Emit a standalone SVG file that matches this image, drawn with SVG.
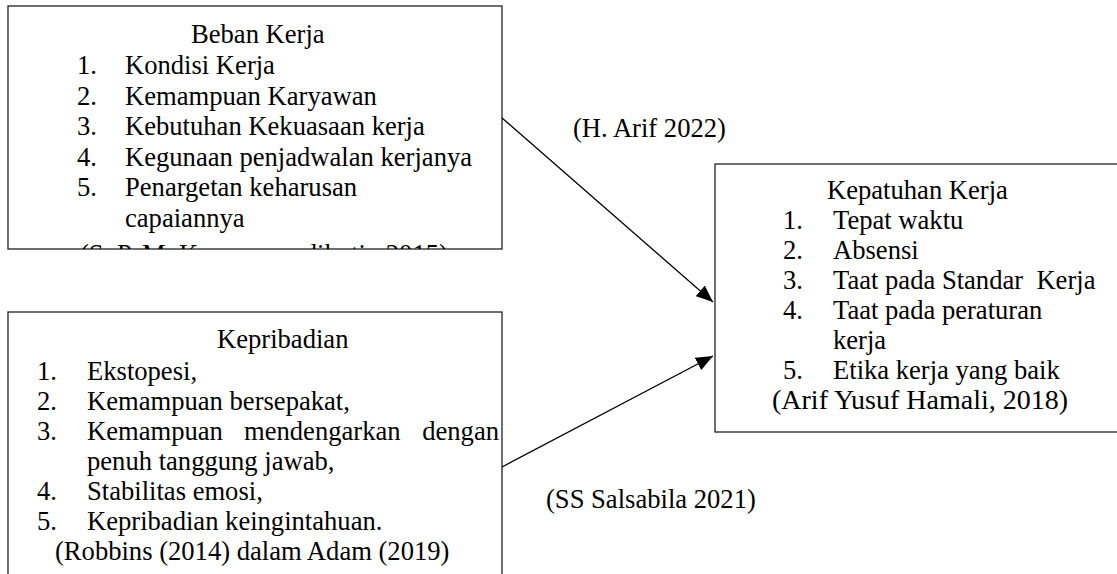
<svg xmlns="http://www.w3.org/2000/svg" width="1117" height="574" viewBox="0 0 1117 574">
<style>
text{font-family:'Liberation Serif','Times New Roman',serif;font-size:26.6px;fill:#000}
text.cite{font-size:28px}
.box{fill:#fff;stroke:#222;stroke-width:1.3}
.conn{stroke:#000;stroke-width:1.3;fill:none}
</style>
<defs>
<marker id="arr" viewBox="0 0 10 10" refX="10" refY="5" markerWidth="17" markerHeight="14" markerUnits="userSpaceOnUse" orient="auto" preserveAspectRatio="none">
<path d="M0,0 L10,5 L0,10 z" fill="#000"/>
</marker>
<clipPath id="c1"><rect x="8" y="6" width="494" height="243"/></clipPath>
</defs>
<rect width="1117" height="574" fill="#fff"/>
<g id="beban-kerja">
<rect class="box" x="8" y="6" width="494" height="243"/>
<g clip-path="url(#c1)">
<text x="191" y="43">Beban Kerja</text>
<text x="77" y="74">1.</text><text x="125" y="74">Kondisi Kerja</text>
<text x="77" y="105">2.</text><text x="125" y="105">Kemampuan Karyawan</text>
<text x="77" y="135">3.</text><text x="125" y="135">Kebutuhan Kekuasaan kerja</text>
<text x="77" y="166">4.</text><text x="125" y="166">Kegunaan penjadwalan kerjanya</text>
<text x="77" y="196">5.</text><text x="125" y="196">Penargetan keharusan</text>
<text x="125" y="227">capaiannya</text>
<text x="80" y="263">(S. P. M. Kasmawan dikutip 2015)</text>
</g>
</g>
<g id="kepribadian">
<rect class="box" x="8" y="312" width="494" height="300"/>
<text x="217" y="348">Kepribadian</text>
<text x="37" y="380">1.</text><text x="87" y="380">Ekstopesi,</text>
<text x="37" y="410">2.</text><text x="87" y="410">Kemampuan bersepakat,</text>
<text x="37" y="440">3.</text><text x="87" y="440">Kemampuan</text><text x="244" y="440">mendengarkan</text><text x="499" y="440" text-anchor="end">dengan</text>
<text x="87" y="470">penuh tanggung jawab,</text>
<text x="37" y="500">4.</text><text x="87" y="500">Stabilitas emosi,</text>
<text x="37" y="530">5.</text><text x="87" y="530">Kepribadian keingintahuan.</text>
<text x="55" y="560">(Robbins (2014) dalam Adam (2019)</text>
</g>
<g id="kepatuhan-kerja">
<rect class="box" x="715" y="164" width="420" height="268"/>
<text x="827" y="199">Kepatuhan Kerja</text>
<text x="783" y="229">1.</text><text x="833" y="229">Tepat waktu</text>
<text x="783" y="259">2.</text><text x="833" y="259">Absensi</text>
<text x="783" y="289">3.</text><text x="833" y="289" xml:space="preserve">Taat pada Standar  Kerja</text>
<text x="783" y="319">4.</text><text x="833" y="319">Taat pada peraturan</text>
<text x="833" y="349">kerja</text>
<text x="783" y="379">5.</text><text x="833" y="379">Etika kerja yang baik</text>
<text class="cite" x="772" y="409">(Arif Yusuf Hamali, 2018)</text>
</g>
<g id="connectors">
<line class="conn" x1="502" y1="118" x2="713" y2="302" marker-end="url(#arr)"/>
<line class="conn" x1="502" y1="467" x2="713" y2="356" marker-end="url(#arr)"/>
<text x="573" y="137">(H. Arif 2022)</text>
<text x="546" y="508">(SS Salsabila 2021)</text>
</g>
</svg>
